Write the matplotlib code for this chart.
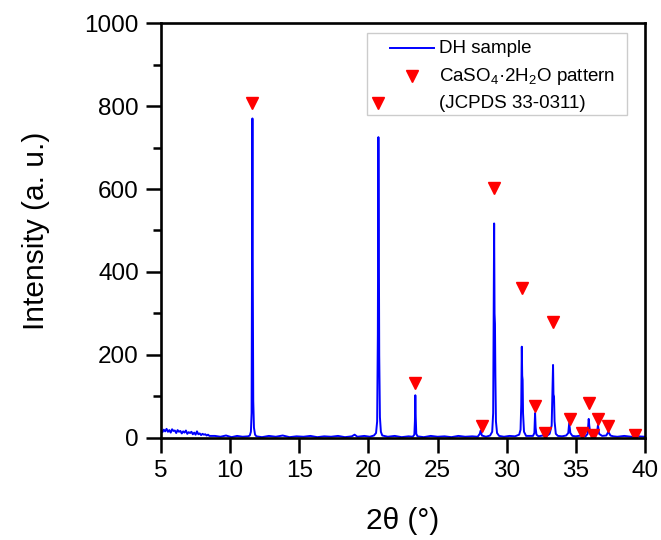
import numpy as np
import matplotlib
matplotlib.use("Agg")
import matplotlib.pyplot as plt
from matplotlib.patches import Rectangle
from matplotlib.ticker import MultipleLocator

plt.rcParams['font.family'] = ['Liberation Sans', 'DejaVu Sans']
plt.rcParams['mathtext.fontset'] = 'custom'
plt.rcParams['mathtext.rm'] = 'Liberation Sans'
plt.rcParams['mathtext.it'] = 'Liberation Sans'

# --- DH sample pattern (vertices) ---
# noisy start, 5.0 .. 8.5 deg
low_angle_x = [5.0 + 0.1 * i for i in range(36)]
low_angle_y = [18, 14, 20, 16, 22, 15, 19, 13, 21, 17, 18, 12, 19, 15, 17, 11, 16, 13,
               18, 10, 14, 12, 15, 9, 13, 8, 16, 9, 11, 7, 10, 8, 9, 6, 8, 5]

scan_x = [8.9, 9.3, 9.7, 10.1, 10.5, 10.9, 11.3,
          11.42, 11.5, 11.55, 11.58, 11.61, 11.64, 11.67, 11.72, 11.8, 11.9,
          12.3, 12.8, 13.3, 13.8, 14.3, 14.8, 15.3, 15.8, 16.3, 16.8, 17.3, 17.8,
          18.3, 18.8, 19.0, 19.2, 19.7, 20.1, 20.4,
          20.55, 20.63, 20.68, 20.72, 20.75, 20.78, 20.83, 20.9, 21.0,
          21.4, 21.9, 22.4, 22.9, 23.2,
          23.32, 23.36, 23.39, 23.42, 23.46, 23.55,
          24.0, 24.5, 25.0, 25.5, 26.0, 26.5, 27.0, 27.5, 27.9, 28.05, 28.12, 28.2, 28.5, 28.8,
          28.95, 29.02, 29.06, 29.09, 29.12, 29.15, 29.18, 29.22, 29.3, 29.45,
          29.8, 30.2, 30.6, 30.9,
          31.0, 31.05, 31.09, 31.12, 31.15, 31.18, 31.25, 31.4,
          31.9, 32.0, 32.05, 32.09, 32.15, 32.3, 32.6, 32.9, 33.1,
          33.25, 33.31, 33.35, 33.38, 33.42, 33.46, 33.55, 33.7,
          34.0, 34.3, 34.45, 34.52, 34.6, 34.75, 35.0, 35.4, 35.7,
          35.85, 35.93, 35.97, 36.05, 36.2, 36.3,
          36.52, 36.6, 36.68, 36.9, 37.2, 37.35, 37.4, 37.5, 37.7,
          38.0, 38.5, 39.0, 39.5, 40.0]
scan_y = [5, 3, 6, 2, 5, 3, 4,
          6, 15, 60, 400, 770, 350, 90, 25, 8, 4,
          2, 5, 3, 6, 2, 4, 3, 5, 2, 4, 3, 5,
          2, 4, 8, 3, 5, 3, 6,
          12, 40, 250, 725, 500, 200, 50, 15, 6,
          3, 5, 2, 4, 3,
          8, 40, 103, 50, 10, 4,
          2, 5, 3, 4, 2, 5, 3, 4, 3, 10, 18, 6, 3, 6,
          15, 60, 300, 517, 300, 275, 150, 40, 12, 5,
          3, 5, 4, 8,
          20, 80, 220, 150, 140, 60, 15, 5,
          5, 12, 60, 25, 8, 4, 6, 5, 10,
          30, 120, 176, 105, 100, 40, 10, 5,
          4, 6, 12, 36, 12, 5, 4, 6, 4,
          10, 46, 30, 10, 5, 8,
          12, 31, 10, 5, 6, 15, 12, 6, 4,
          3, 5, 3, 4, 3]

two_theta = low_angle_x + scan_x
intensity = low_angle_y + scan_y

# --- CaSO4.2H2O reference lines (JCPDS 33-0311) ---
ref_pos = [11.58, 23.37, 28.19, 29.08, 31.08, 32.07, 32.77, 33.32, 34.57,
           35.44, 35.97, 36.26, 36.62, 37.34, 39.27]
ref_int = [807, 133, 29, 602, 361, 77, 13, 280, 45, 13, 85, 7, 45, 29, 7]

fig = plt.figure(figsize=(6.61, 5.40), dpi=100)
ax = fig.add_axes([0.2436, 0.1889, 0.7322, 0.7685])

ax.plot(two_theta, intensity, color='#0000ff', lw=1.4)
ax.plot(ref_pos, ref_int, ls='none', marker='v', ms=9, color='#ff0000', mec='#ff0000')

ax.set_xlim(5, 40)
ax.set_ylim(0, 1000)
ax.xaxis.set_major_locator(MultipleLocator(5))
ax.yaxis.set_major_locator(MultipleLocator(200))
ax.yaxis.set_minor_locator(MultipleLocator(100))
ax.tick_params(which='major', direction='out', length=11, width=1.8, labelsize=17.5, pad=5)
ax.tick_params(which='minor', direction='out', length=6, width=1.8)
for sp in ax.spines.values():
    sp.set_linewidth(1.9)

ax.set_xlabel('2θ (°)', fontsize=21.5, labelpad=18)
ax.set_ylabel('Intensity (a. u.)', fontsize=21.5, labelpad=25)

# Origin-style legend box
ax.add_patch(Rectangle((0.425, 0.778), 0.537, 0.199, transform=ax.transAxes,
                       fill=False, ec='#cccccc', lw=1))
ax.plot([0.473, 0.564], [0.939, 0.939], transform=ax.transAxes, color='#0000ff', lw=1.4)
ax.plot([0.518], [0.872], transform=ax.transAxes, marker='v', ms=9, color='#ff0000', ls='none')
ax.plot([0.449], [0.8065], transform=ax.transAxes, marker='v', ms=9, color='#ff0000', ls='none')
ax.text(0.575, 0.939, 'DH sample', transform=ax.transAxes, fontsize=13.5, va='center')
ax.text(0.575, 0.872, 'CaSO$_4$·2H$_2$O pattern', transform=ax.transAxes, fontsize=13.5, va='center')
ax.text(0.575, 0.8065, '(JCPDS 33-0311)', transform=ax.transAxes, fontsize=13.5, va='center')

fig.savefig('out.png', dpi=100)
